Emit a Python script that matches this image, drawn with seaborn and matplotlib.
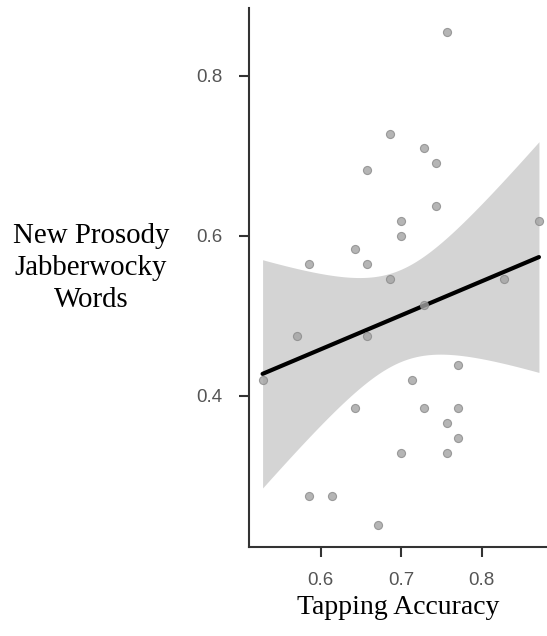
import numpy as np
import pandas as pd
import seaborn as sns
import matplotlib.pyplot as plt

# данные
tapping = [0.757, 0.686, 0.728, 0.743, 0.657, 0.743, 0.871, 0.700, 0.700, 0.643,
           0.586, 0.657, 0.686, 0.828, 0.728, 0.571, 0.657, 0.528, 0.771, 0.714,
           0.643, 0.728, 0.771, 0.757, 0.771, 0.700, 0.757, 0.586, 0.614, 0.671]
jabber = [0.854, 0.727, 0.709, 0.691, 0.682, 0.637, 0.618, 0.618, 0.600, 0.583,
          0.565, 0.565, 0.546, 0.546, 0.513, 0.474, 0.474, 0.420, 0.438, 0.420,
          0.384, 0.384, 0.384, 0.366, 0.347, 0.329, 0.329, 0.275, 0.275, 0.239]

df = pd.DataFrame({'Tapping Accuracy': tapping, 'Jabberwocky': jabber})

sns.set_style('white')
plt.rcParams['font.family'] = ['Liberation Serif', 'DejaVu Serif']

fig = plt.figure(figsize=(5.47, 6.36), dpi=100)
ax = fig.add_axes([0.455, 0.14, 0.545, 0.847])

# аналитический 95% доверительный интервал (как в ggplot), а не бутстрэп
x = df['Tapping Accuracy'].to_numpy()
y = df['Jabberwocky'].to_numpy()
n = len(x)
b, a = np.polyfit(x, y, 1)
resid = y - (a + b * x)
s = np.sqrt(np.sum(resid ** 2) / (n - 2))
sxx = np.sum((x - x.mean()) ** 2)
t_crit = 2.048  # t(0.975, df=28)
grid = np.linspace(x.min(), x.max(), 200)
se = s * np.sqrt(1 / n + (grid - x.mean()) ** 2 / sxx)
fit = a + b * grid
ax.fill_between(grid, fit - t_crit * se, fit + t_crit * se, color='#d4d4d4', linewidth=0, zorder=1)

sns.regplot(data=df, x='Tapping Accuracy', y='Jabberwocky', ax=ax, color='black', ci=None,
            scatter_kws={'s': 34, 'color': '#a3a3a3', 'edgecolor': '#8a8a8a', 'linewidths': 0.8,
                         'zorder': 3},
            line_kws={'linewidth': 3, 'zorder': 2})

ax.set_xlim(0.511, 0.881)
ax.set_ylim(0.211, 0.884)
ax.set_xticks([0.6, 0.7, 0.8])
ax.set_yticks([0.4, 0.6, 0.8])

for side in ['top', 'right']:
    ax.spines[side].set_visible(False)
for side in ['left', 'bottom']:
    ax.spines[side].set_color('#333333')
    ax.spines[side].set_linewidth(1.5)

ax.tick_params(axis='both', length=7, width=1.5, color='#333333', labelsize=13.5,
               labelcolor='#555555', left=True, bottom=True)
ax.tick_params(axis='x', pad=11)
ax.tick_params(axis='y', pad=12)
for lab in ax.get_xticklabels() + ax.get_yticklabels():
    lab.set_family(['Liberation Sans', 'DejaVu Sans'])

ax.set_xlabel('Tapping Accuracy', fontsize=20, color='black', labelpad=4)
ax.set_ylabel('New Prosody\nJabberwocky\nWords', fontsize=20.8, color='black',
              rotation=0, ha='center', va='center', labelpad=0, linespacing=1.3)
ax.yaxis.set_label_coords(-0.53, 0.518)

fig.savefig('out.png', dpi=100)
